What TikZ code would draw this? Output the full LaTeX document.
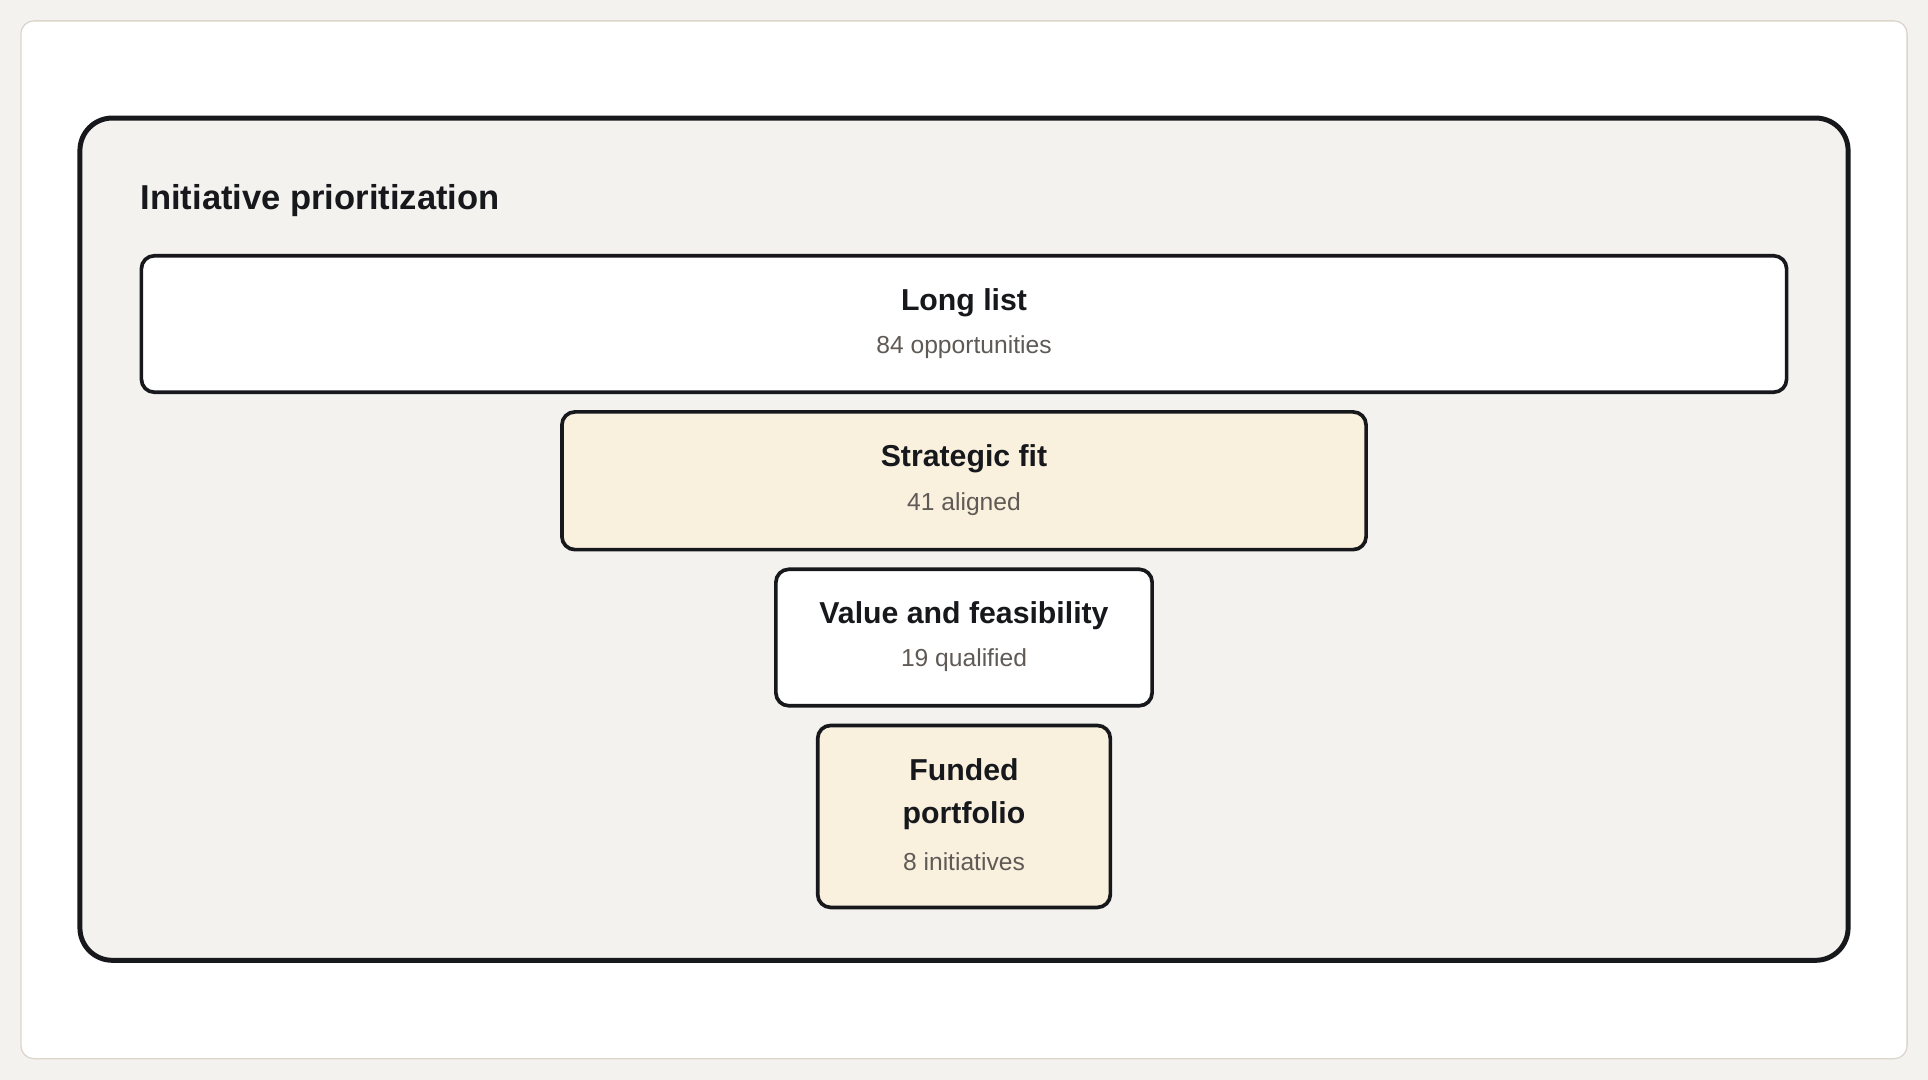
\documentclass[tikz,border=0pt]{standalone}
\usepackage{fontspec}
\setmainfont{Liberation Sans}
\definecolor{pagebg}{HTML}{F4F2EE}
\definecolor{cardedge}{HTML}{DDD5CC}
\definecolor{cream}{HTML}{F9F0DE}
\definecolor{ink}{HTML}{16181C}
\definecolor{subgray}{HTML}{5F5A55}
\tikzset{
  stage/.style={draw=ink, line width=1.7pt, rounded corners=6pt, inner sep=0pt},
  head/.style={font=\fontsize{14pt}{20pt}\selectfont\bfseries, text=ink, align=center},
  sub/.style={font=\fontsize{11.4pt}{14pt}\selectfont, text=subgray}
}
\begin{document}
\begin{tikzpicture}[x=0.02cm, y=-0.02cm]
\fill[pagebg] (0,0) rectangle (1568,878);
\draw[cardedge, fill=white, line width=0.6pt, rounded corners=6pt] (17,17) rectangle (1551,861);
\draw[ink, fill=pagebg, line width=2.3pt, rounded corners=15pt] (65,96) rectangle (1503,781);
\node[anchor=base west, font=\fontsize{16pt}{20pt}\selectfont\bfseries, text=ink, inner sep=0pt] (title) at (114,170) {Initiative prioritization};
% funnel stages
\node[stage, fill=white, minimum width=1338*0.02cm, minimum height=111*0.02cm] (long) at (784,263.5) {};
\node[stage, fill=cream, minimum width=654*0.02cm, minimum height=112*0.02cm] (fit) at (784,391) {};
\node[stage, fill=white, minimum width=306*0.02cm, minimum height=111*0.02cm] (value) at (784,518.5) {};
\node[stage, fill=cream, minimum width=238*0.02cm, minimum height=148*0.02cm] (funded) at (784,664) {};
% labels
\node[head] (longh) at (784,246) {Long list};
\node[sub] (longs) at (784,282) {84 opportunities};
\node[head] (fith) at (784,373) {Strategic fit};
\node[sub] (fits) at (784,410) {41 aligned};
\node[head] (valueh) at (784,501) {Value and feasibility};
\node[sub] (values) at (784,537) {19 qualified};
\node[head] (fundedh) at (784,646) {Funded\\portfolio};
\node[sub] (fundeds) at (784,701) {8 initiatives};
\end{tikzpicture}
\end{document}
